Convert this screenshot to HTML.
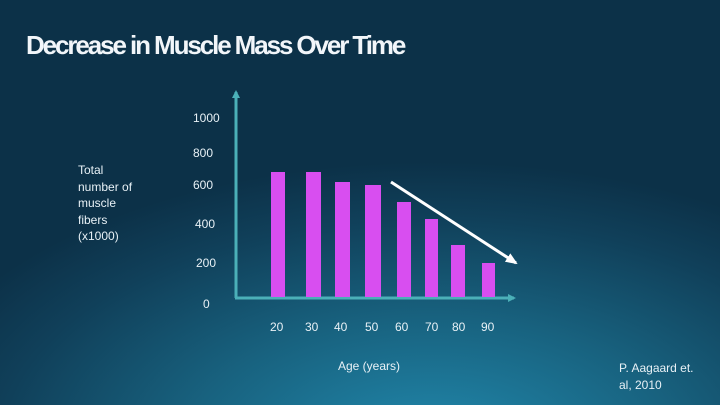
<!DOCTYPE html>
<html><head><meta charset="utf-8"><style>
html,body{margin:0;padding:0}
body{width:720px;height:405px;overflow:hidden;position:relative;
background:radial-gradient(ellipse 75% 70% at 60% 110%, #2189ad 0%, #18627f 45%, #10405a 80%, #0c3148 100%);
font-family:"Liberation Sans",sans-serif;color:#e8f1f6}
.t{position:absolute;white-space:nowrap}
.title{left:26px;top:30px;font-size:26px;font-weight:bold;letter-spacing:-2.1px;color:#f2f6fa}
.s{font-size:12px}
</style></head><body>
<div class="t title">Decrease in Muscle Mass&nbsp;Over Time</div>
<svg width="720" height="405" style="position:absolute;left:0;top:0">
<defs><marker id="a" markerWidth="8" markerHeight="8" refX="6" refY="4" orient="auto" markerUnits="userSpaceOnUse"><path d="M0,0 L8,4 L0,8 z" fill="#4bb0b8"/></marker>
<marker id="w" markerWidth="12" markerHeight="10" refX="10" refY="5" orient="auto" markerUnits="userSpaceOnUse"><path d="M0,0 L12,5 L0,10 z" fill="#fff"/></marker></defs>
<line x1="236" y1="298" x2="236" y2="92" stroke="#4bb0b8" stroke-width="3" marker-end="url(#a)"/>
<line x1="235" y1="298" x2="514" y2="298" stroke="#4bb0b8" stroke-width="3" marker-end="url(#a)"/>
<g fill="#d84ef0">
<rect x="271" y="172" width="14" height="125"/>
<rect x="306" y="172" width="15" height="125"/>
<rect x="335" y="182" width="15" height="115"/>
<rect x="365" y="185" width="16" height="112"/>
<rect x="397" y="202" width="14" height="95"/>
<rect x="425" y="219" width="13" height="78"/>
<rect x="451" y="245" width="14" height="52"/>
<rect x="482" y="263" width="13" height="34"/>
</g>
<line x1="391" y1="182" x2="516" y2="263" stroke="#fff" stroke-width="3" marker-end="url(#w)"/>
</svg>
<div class="t s" style="left:193px;top:111px">1000</div>
<div class="t s" style="left:193px;top:146px">800</div>
<div class="t s" style="left:193px;top:178px">600</div>
<div class="t s" style="left:195px;top:217px">400</div>
<div class="t s" style="left:196px;top:256px">200</div>
<div class="t s" style="left:203px;top:297px">0</div>
<div class="t s" style="left:270px;top:320px">20</div>
<div class="t s" style="left:305px;top:320px">30</div>
<div class="t s" style="left:334px;top:320px">40</div>
<div class="t s" style="left:365px;top:320px">50</div>
<div class="t s" style="left:395px;top:320px">60</div>
<div class="t s" style="left:425px;top:320px">70</div>
<div class="t s" style="left:452px;top:320px">80</div>
<div class="t s" style="left:481px;top:320px">90</div>
<div class="t s" style="left:78px;top:162px;line-height:16.5px">Total<br>number of<br>muscle<br>fibers<br>(x1000)</div>
<div class="t s" style="left:338px;top:359px">Age (years)</div>
<div class="t s" style="left:619px;top:360px;line-height:17px">P. Aagaard et.<br>al, 2010</div>
</body></html>
